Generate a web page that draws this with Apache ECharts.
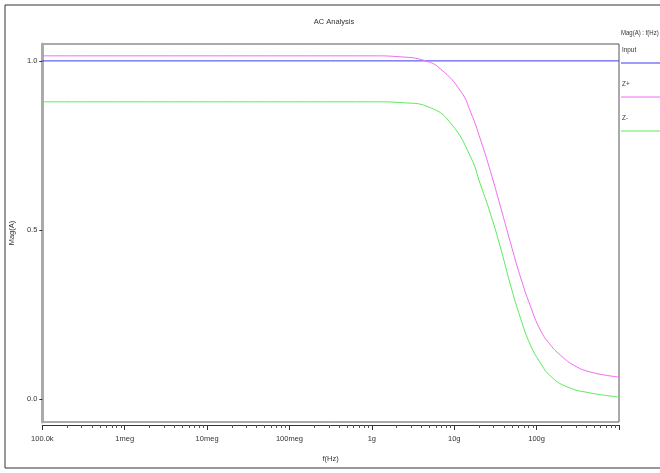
<!DOCTYPE html>
<html>
<head>
<meta charset="utf-8">
<script src="https://cdn.jsdelivr.net/npm/echarts@6/dist/echarts.min.js"></script>
<style>
    html, body { margin: 0; padding: 0; background: #fff; }
    #chart { width: 660px; height: 473px; }
</style>
</head>
<body>
<div id="chart"></div>
<script>
// 频率 (Hz) 与幅值
const inputFreq = [1e5, 1e12];
const inputMag = [1.0, 1.0];

const zPlusFreq = [1e5, 1e9, 2.25e9, 4.5e9, 6.9e9, 1.2e10, 1.58e10, 2.09e10, 2.76e10, 3.65e10, 4.82e10, 6.36e10, 8.4e10, 1.11e11, 1.47e11, 1.94e11, 2.78e11, 4.47e11, 1e12];
const zPlusMag = [1.015, 1.015, 1.012, 1.0, 0.975, 0.91, 0.849, 0.766, 0.672, 0.568, 0.462, 0.361, 0.275, 0.204, 0.160, 0.130, 0.101, 0.080, 0.065];

const zMinusFreq = [1e5, 1e9, 2.5e9, 5.2e9, 9.1e9, 1.58e10, 2.09e10, 2.76e10, 3.65e10, 4.82e10, 6.36e10, 8.4e10, 1.11e11, 1.47e11, 2.34e11, 4.47e11, 1e12];
const zMinusMag = [0.879, 0.879, 0.876, 0.861, 0.815, 0.716, 0.633, 0.547, 0.447, 0.337, 0.240, 0.160, 0.107, 0.068, 0.036, 0.018, 0.006];

// 坐标轴刻度
const decadeTicks = [1e5, 1e6, 1e7, 1e8, 1e9, 1e10, 1e11, 1e12];
const decadeLabels = ['100.0k', '1meg', '10meg', '100meg', '1g', '10g', '100g', ''];
const minorTicks = [];
decadeTicks.slice(0, -1).forEach(d => {
    for (let k = 2; k <= 9; k++) minorTicks.push(d * k);
});
const yTicks = [0, 0.5, 1.0];

const seriesNames = ['Input', 'Z+', 'Z-'];
const seriesColors = ['#3b3bf2', '#f36af3', '#5ceb5c'];

const font = "'Liberation Sans Narrow', 'Liberation Sans', Arial, sans-serif";

const toPairs = (xs, ys) => xs.map((x, i) => [x, ys[i]]);

const chart = echarts.init(document.getElementById('chart'));

// 图例: 文字在上, 线段在下
const legendGraphics = [
    { type: 'text', x: 621, y: 29, scaleX: 0.8, style: { text: 'Mag(A) : f(Hz)', font: '7.5px ' + font, fill: '#333' } }
];
seriesNames.forEach((name, i) => {
    const top = 46 + i * 34;
    legendGraphics.push({ type: 'text', x: 622, y: top, scaleX: 0.85, style: { text: name, font: '7.5px ' + font, fill: '#333' } });
    legendGraphics.push({ type: 'line', shape: { x1: 621, y1: top + 17, x2: 662, y2: top + 17 }, style: { stroke: seriesColors[i], lineWidth: 1 } });
});

const option = {
    backgroundColor: '#fff',
    animation: false,
    title: {
        text: 'AC Analysis',
        left: 329,
        top: 13,
        textAlign: 'center',
        textStyle: { fontSize: 7.5, fontWeight: 'normal', color: '#333', fontFamily: font }
    },
    grid: {
        left: 40,
        right: 41,
        top: 44,
        bottom: 51,
        show: true,
        borderColor: '#555',
        borderWidth: 1
    },
    xAxis: [
        {
            type: 'log',
            logBase: 10,
            min: 1e5,
            max: 1e12,
            position: 'bottom',
            offset: 3,
            name: 'f(Hz)',
            nameLocation: 'middle',
            nameGap: 30,
            nameTextStyle: { fontSize: 7.5, color: '#333', fontFamily: font },
            axisLine: { show: true, onZero: false, lineStyle: { color: '#333', width: 1 } },
            axisTick: { show: true, length: 5, customValues: decadeTicks, lineStyle: { color: '#333' } },
            axisLabel: {
                customValues: decadeTicks.slice(0, -1),
                fontSize: 7.5,
                color: '#333',
                fontFamily: font,
                margin: 10,
                formatter: v => decadeLabels[Math.round(Math.log10(v)) - 5]
            },
            splitLine: { show: false }
        },
        {
            type: 'log',
            logBase: 10,
            min: 1e5,
            max: 1e12,
            position: 'bottom',
            offset: 3,
            axisLine: { show: false, onZero: false },
            axisTick: { show: true, length: 3, customValues: minorTicks, lineStyle: { color: '#555' } },
            axisLabel: { show: false },
            splitLine: { show: false }
        }
    ],
    yAxis: {
        type: 'value',
        min: -0.068,
        max: 1.05,
        name: 'Mag(A)',
        nameLocation: 'middle',
        nameGap: 26,
        nameRotate: 90,
        nameTextStyle: { fontSize: 7.5, color: '#333', fontFamily: font },
        axisLine: { show: true, onZero: false, lineStyle: { color: '#aaa', width: 3 } },
        axisTick: { show: true, length: 3, customValues: yTicks, lineStyle: { color: '#333' } },
        axisLabel: {
            customValues: yTicks,
            fontSize: 7.5,
            color: '#333',
            fontFamily: font,
            margin: 5,
            formatter: v => v.toFixed(1)
        },
        splitLine: { show: false }
    },
    graphic: [
        { type: 'rect', shape: { x: 5, y: 5, width: 700, height: 463 }, style: { fill: null, stroke: '#333', lineWidth: 1 }, silent: true },
        ...legendGraphics
    ],
    series: [
        {
            name: seriesNames[0],
            type: 'line',
            data: toPairs(inputFreq, inputMag),
            symbol: 'none',
            lineStyle: { color: seriesColors[0], width: 1 }
        },
        {
            name: seriesNames[1],
            type: 'line',
            data: toPairs(zPlusFreq, zPlusMag),
            symbol: 'none',
            smooth: 0.5,
            lineStyle: { color: seriesColors[1], width: 1 }
        },
        {
            name: seriesNames[2],
            type: 'line',
            data: toPairs(zMinusFreq, zMinusMag),
            symbol: 'none',
            smooth: 0.5,
            lineStyle: { color: seriesColors[2], width: 1 }
        }
    ]
};

chart.setOption(option);
</script>
</body>
</html>
